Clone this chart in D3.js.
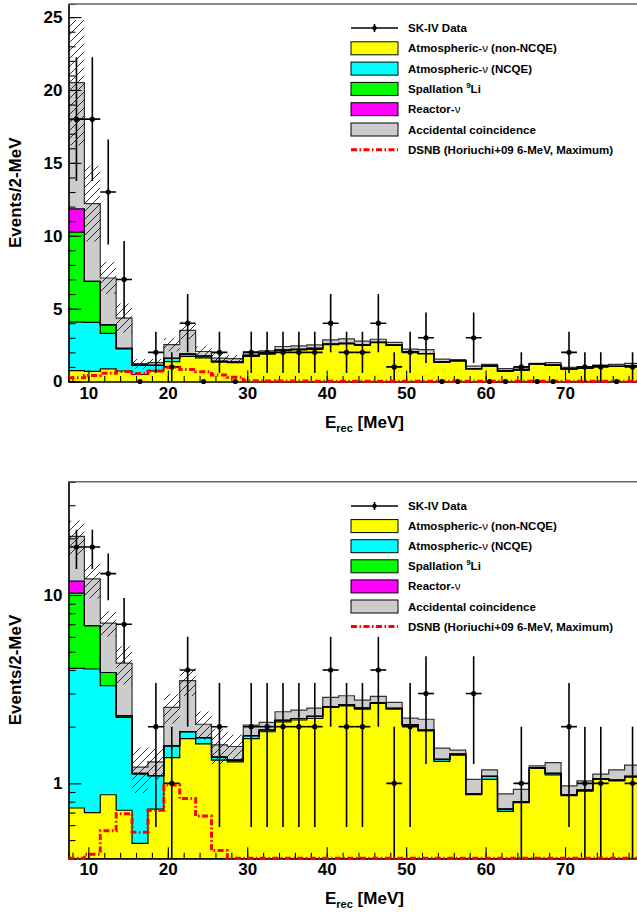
<!DOCTYPE html>
<html>
<head>
<meta charset="utf-8">
<script src="https://cdn.jsdelivr.net/npm/d3@7"></script>
<style>
body { margin: 0; background: #fff; }
svg { display: block; }
text { font-family: "Liberation Sans", Arial, Helvetica, sans-serif; font-weight: bold; }
</style>
</head>
<body>
<div id="chart"></div>
<script>
// bin centres (2-MeV bins from 7.5 to 79.5 MeV)
const binCenters = [8.5, 10.5, 12.5, 14.5, 16.5, 18.5, 20.5, 22.5, 24.5, 26.5, 28.5, 30.5,
                    32.5, 34.5, 36.5, 38.5, 40.5, 42.5, 44.5, 46.5, 48.5, 50.5, 52.5, 54.5,
                    56.5, 58.5, 60.5, 62.5, 64.5, 66.5, 68.5, 70.5, 72.5, 74.5, 76.5, 78.5];

const skData = [18, 18, 13, 7, 0, 2, 1, 4, 0, 2, 0, 2,
                2, 2, 2, 2, 4, 2, 2, 4, 1, 2, 3, 0,
                0, 3, 0, 0, 1, 0, 0, 2, 1, 1, 0, 1];

const atmNonNCQE = [0.74, 0.70, 0.87, 0.72, 0.48, 0.73, 1.37, 1.73, 1.62, 1.33, 1.30, 1.73,
                    1.88, 2.12, 2.17, 2.21, 2.53, 2.58, 2.48, 2.66, 2.48, 2.02, 1.90, 1.31,
                    1.41, 0.87, 1.05, 0.71, 0.79, 1.20, 1.11, 0.86, 0.91, 1.05, 1.03, 1.08];

const atmNCQE = [3.34, 3.35, 2.43, 1.52, 0.64, 0.37, 0.21, 0.15, 0.13, 0.05, 0.03, 0.06,
                 0.04, 0.04, 0.04, 0.06, 0.03, 0.03, 0.03, 0.02, 0.02, 0.03, 0.02, 0.03,
                 0.02, 0.01, 0.04, 0.02, 0.01, 0.01, 0.02, 0.01, 0.01, 0.01, 0.01, 0.01];

const spallation = [6.17, 2.82, 0.58, 0.04, 0.01, 0, 0, 0, 0, 0, 0, 0,
                    0, 0, 0, 0, 0, 0, 0, 0, 0, 0, 0, 0,
                    0, 0, 0, 0, 0, 0, 0, 0, 0, 0, 0, 0];

const reactor = [1.6, 0, 0, 0, 0, 0, 0, 0, 0, 0, 0, 0,
                 0, 0, 0, 0, 0, 0, 0, 0, 0, 0, 0, 0,
                 0, 0, 0, 0, 0, 0, 0, 0, 0, 0, 0, 0];

const accidental = [8.65, 5.33, 3.22, 2.07, 0.09, 0.20, 0.95, 1.63, 0.31, 0.22, 0.24, 0.25,
                    0.19, 0.24, 0.24, 0.24, 0.30, 0.31, 0.26, 0.22, 0.19, 0.17, 0.27, 0.20,
                    0.07, 0.17, 0.09, 0.15, 0.13, 0.03, 0.16, 0.10, 0.11, 0.06, 0.14, 0.16];

// systematic band (hatched) on the total background
const sysErr = [4.3, 2.6, 1.1, 1.0, 0.33, 0.25, 0.45, 0.6, 0.35, 0.35, 0.25, 0,
                0, 0, 0, 0, 0, 0, 0, 0, 0, 0, 0, 0,
                0, 0, 0, 0, 0, 0, 0, 0, 0, 0, 0, 0];

const dsnb = [0.25, 0.42, 0.56, 0.69, 0.55, 0.72, 0.98, 0.83, 0.67, 0.44, 0.30, 0.05,
              0.04, 0.03, 0.03, 0.02, 0.02, 0.02, 0.01, 0.01, 0.01, 0.01, 0.01, 0.01,
              0.01, 0.01, 0.01, 0.01, 0.01, 0.01, 0.01, 0.01, 0.01, 0.01, 0.01, 0.01];

const xMajorTicks = [10, 20, 30, 40, 50, 60, 70];
const linMajorTicks = [0, 5, 10, 15, 20, 25];
const logMajorTicks = [1, 10];
const logMinorTicks = [0.4, 0.5, 0.6, 0.7, 0.8, 0.9, 2, 3, 4, 5, 6, 7, 8, 9, 20, 30, 40];

const layers = [
    {name: "Atmospheric-ν (non-NCQE)", vals: atmNonNCQE, color: "#ffff00", line: "#000"},
    {name: "Atmospheric-ν (NCQE)",     vals: atmNCQE,    color: "#00ffff", line: "#000"},
    {name: "Spallation 9Li",           vals: spallation, color: "#00ff00", line: "#000"},
    {name: "Reactor-ν",                vals: reactor,    color: "#ff00ff", line: "#000"},
    {name: "Accidental coincidence",   vals: accidental, color: "#cccccc", line: "#333"}
];

var W = 637, H = 917;
var svg = d3.select("#chart").append("svg").attr("width", W).attr("height", H);

var defs = svg.append("defs");
defs.append("pattern")
    .attr("id", "hatch")
    .attr("patternUnits", "userSpaceOnUse")
    .attr("width", 8).attr("height", 8)
  .append("path")
    .attr("d", "M0,8 L8,0 M-2,2 L2,-2 M6,10 L10,6")
    .attr("stroke", "#000")
    .attr("stroke-width", 0.8);

var x = d3.scaleLinear().domain([7.5, 79.5]).range([68.5, 640.5]);
var halfBin = 1;

// cumulative stack
var cum = [];
var base = binCenters.map(() => 0);
layers.forEach(function(l) {
    var lo = base.slice();
    var hi = base.map((b, i) => b + l.vals[i]);
    cum.push({lo: lo, hi: hi, layer: l});
    base = hi;
});
var total = base;

// step points: one per bin low edge plus the closing edge
function stepPts(vals) {
    var pts = binCenters.map((c, i) => [c - halfBin, vals[i]]);
    pts.push([binCenters[binCenters.length - 1] + halfBin, vals[vals.length - 1]]);
    return pts;
}

function draw_panel(id, y, top, bottom, isLog) {
    var g = svg.append("g").attr("id", id);
    var clipId = id + "-clip";
    defs.append("clipPath").attr("id", clipId)
      .append("rect")
        .attr("x", x.range()[0]).attr("y", top)
        .attr("width", x.range()[1] - x.range()[0]).attr("height", bottom - top);

    var plot = g.append("g").attr("clip-path", "url(#" + clipId + ")");

    // stacked fills
    cum.forEach(function(c) {
        var lo = stepPts(c.lo), hi = stepPts(c.hi);
        var area = d3.area()
            .curve(d3.curveStepAfter)
            .x(d => x(d[0]))
            .y0((d, i) => y(lo[i][1]))
            .y1(d => y(d[1]));
        plot.append("path")
            .attr("d", area(hi))
            .attr("fill", c.layer.color);
    });

    // outlines of each layer top
    var line = d3.line().curve(d3.curveStepAfter).x(d => x(d[0])).y(d => y(d[1]));
    cum.slice().reverse().forEach(function(c) {
        plot.append("path")
            .attr("d", line(stepPts(c.hi)))
            .attr("fill", "none")
            .attr("stroke", c.layer.line)
            .attr("stroke-width", 1.2);
    });

    // hatched systematic band
    var bl = stepPts(total.map((t, i) => t - sysErr[i]));
    var band = d3.area()
        .curve(d3.curveStepAfter)
        .x(d => x(d[0]))
        .y0((d, i) => y(bl[i][1]))
        .y1(d => y(d[1]));
    plot.append("path")
        .attr("d", band(stepPts(total.map((t, i) => t + sysErr[i]))))
        .attr("fill", "url(#hatch)");

    // axes with inward ticks
    var xa = g.append("g").attr("transform", "translate(0," + bottom + ")");
    xa.call(d3.axisBottom(x).tickValues(xMajorTicks).tickSizeInner(-11).tickSizeOuter(0).tickPadding(5));
    xa.append("g").call(d3.axisBottom(x).tickValues(d3.range(8, 80, 2)).tickSize(-5.5).tickFormat(""));

    var ya = g.append("g").attr("transform", "translate(" + x.range()[0] + ",0)");
    if (isLog) {
        ya.call(d3.axisLeft(y).tickValues(logMajorTicks).tickFormat(d3.format("d"))
            .tickSizeInner(-13).tickSizeOuter(0).tickPadding(6));
        ya.append("g").call(d3.axisLeft(y).tickValues(logMinorTicks).tickSize(-7).tickFormat(""));
    } else {
        ya.call(d3.axisLeft(y).tickValues(linMajorTicks).tickSizeInner(-13).tickSizeOuter(0).tickPadding(6));
        ya.append("g").call(d3.axisLeft(y).tickValues(d3.range(0, 26, 1)).tickSize(-7).tickFormat(""));
    }
    g.selectAll(".domain").attr("stroke", "#000").attr("stroke-width", 1.2);
    g.selectAll(".tick line").attr("stroke", "#000").attr("stroke-width", 1.1);
    g.selectAll(".tick text")
        .attr("font-size", 17)
        .attr("font-family", "'Liberation Sans', Arial, sans-serif")
        .attr("font-weight", "bold")
        .attr("fill", "#000");

    // DSNB expectation (drawn over the axis, like the original)
    g.append("path")
        .attr("d", line(stepPts(dsnb)))
        .attr("fill", "none")
        .attr("stroke", "#ff0000")
        .attr("stroke-width", 3)
        .attr("stroke-dasharray", "6,2.5,1.5,2.5");

    // data points
    var pts = binCenters.map((c, i) => ({x: c, n: skData[i]}))
        .filter(d => !isLog || d.n > 0);
    var dg = plot.selectAll("g.pt").data(pts).enter().append("g");
    dg.filter(d => d.n > 0).append("line")
        .attr("x1", d => x(d.x)).attr("x2", d => x(d.x))
        .attr("y1", d => y(Math.max(d.n - Math.sqrt(d.n), isLog ? 0.01 : 0)))
        .attr("y2", d => y(d.n + Math.sqrt(d.n)))
        .attr("stroke", "#000").attr("stroke-width", 1.6);
    dg.filter(d => d.n > 0).append("line")
        .attr("x1", d => x(d.x - halfBin)).attr("x2", d => x(d.x + halfBin))
        .attr("y1", d => y(d.n)).attr("y2", d => y(d.n))
        .attr("stroke", "#000").attr("stroke-width", 1.6);
    g.selectAll("circle.pt").data(pts).enter().append("circle")
        .attr("cx", d => x(d.x))
        .attr("cy", d => y(d.n))
        .attr("r", 2.6)
        .attr("fill", "#000");

    // top frame line
    g.append("line")
        .attr("x1", x.range()[0]).attr("x2", W)
        .attr("y1", top).attr("y2", top)
        .attr("stroke", "#666").attr("stroke-width", 1.5);

    // axis titles
    var xt = g.append("text")
        .attr("x", 325).attr("y", bottom + 46)
        .attr("font-size", 17);
    xt.append("tspan").text("E");
    xt.append("tspan").attr("font-size", 11).attr("dy", 4).text("rec");
    xt.append("tspan").attr("dy", -4).text(" [MeV]");

    g.append("text")
        .attr("transform", "translate(21," + ((top + bottom) / 2) + ") rotate(-90)")
        .attr("text-anchor", "middle")
        .attr("font-size", 17)
        .text("Events/2-MeV");
}

function draw_legend(y0, dy) {
    var g = svg.append("g");
    var sx = 351, sw = 47, tx = 408;
    var rows = ["SK-IV Data"].concat(layers.map(l => l.name)).concat(["DSNB (Horiuchi+09 6-MeV, Maximum)"]);
    rows.forEach(function(r, i) {
        var cy = y0 + i * dy;
        if (i === 0) {
            g.append("line").attr("x1", sx).attr("x2", sx + sw).attr("y1", cy).attr("y2", cy)
                .attr("stroke", "#000").attr("stroke-width", 1.6);
            g.append("line").attr("x1", sx + sw / 2).attr("x2", sx + sw / 2).attr("y1", cy - 4).attr("y2", cy + 4)
                .attr("stroke", "#000").attr("stroke-width", 1.6);
            g.append("circle").attr("cx", sx + sw / 2).attr("cy", cy).attr("r", 2.2);
        } else if (i <= layers.length) {
            g.append("rect").attr("x", sx).attr("y", cy - 6.5).attr("width", sw).attr("height", 13)
                .attr("fill", layers[i - 1].color).attr("stroke", "#000").attr("stroke-width", 1);
        } else {
            g.append("line").attr("x1", sx).attr("x2", sx + sw).attr("y1", cy).attr("y2", cy)
                .attr("stroke", "#ff0000").attr("stroke-width", 3)
                .attr("stroke-dasharray", "6,2.5,1.5,2.5");
        }
        var t = g.append("text").attr("x", tx).attr("y", cy + 4).attr("font-size", 11.5);
        if (r.indexOf("ν") >= 0) {
            var parts = r.split("ν");
            t.append("tspan").text(parts[0]);
            t.append("tspan").attr("font-weight", "normal").text("ν");
            t.append("tspan").text(parts[1]);
        } else if (r === "Spallation 9Li") {
            t.append("tspan").text("Spallation ");
            t.append("tspan").attr("font-size", 8).attr("dy", -5).text("9");
            t.append("tspan").attr("dy", 5).text("Li");
        } else {
            t.text(r);
        }
    });
}

// top panel: linear
var yLin = d3.scaleLinear().domain([0, 25.9]).range([381.5, 4]).clamp(true);
draw_panel("lin", yLin, 4, 381.5, false);
draw_legend(28, 20.3);

// bottom panel: log
var yLog = d3.scaleLog().domain([0.4, 40]).range([858.3, 481.7]).clamp(true);
draw_panel("log", yLog, 481.7, 858.3, true);
draw_legend(506, 20.1);
</script>
</body>
</html>
